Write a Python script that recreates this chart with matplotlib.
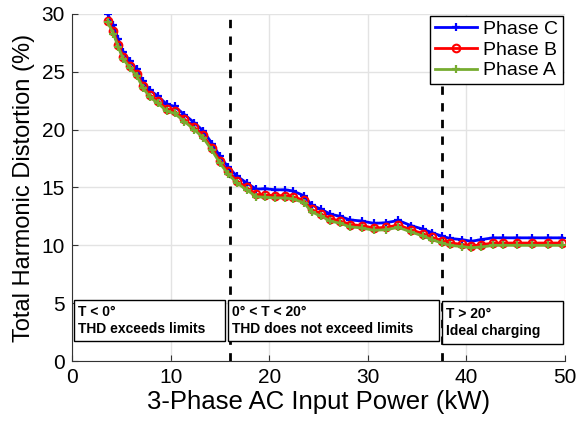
import numpy as np
import matplotlib.pyplot as plt
from matplotlib.patches import Rectangle

# -----------------------------
# DATA
# -----------------------------
POWER_KW = [3.6, 4.2, 4.7, 5.2, 5.9, 6.6, 7.2, 7.9, 8.7, 9.6,
            10.4, 11.4, 12.4, 13.3, 14.2, 15.0, 15.8, 16.7, 17.7, 18.7,
            19.6, 20.6, 21.6, 22.4, 23.5, 24.3, 25.3, 26.2, 27.2, 28.2,
            29.4, 30.6, 31.8, 33.1, 34.4, 35.6, 36.5, 37.5, 38.3, 39.5,
            40.5, 41.5, 42.7, 43.7, 45.1, 46.6, 48.3, 49.7]

THD_PHASE_C = [30.0, 29.0, 27.8, 26.7, 25.9, 25.2, 24.2, 23.4, 22.9, 22.2,
               22.0, 21.3, 20.6, 19.9, 18.8, 17.7, 16.8, 16.0, 15.4, 14.85,
               14.9, 14.8, 14.8, 14.7, 14.3, 13.5, 13.1, 12.7, 12.5, 12.2,
               12.1, 11.9, 11.95, 12.15, 11.7, 11.4, 11.1, 10.8, 10.6, 10.5,
               10.35, 10.5, 10.65, 10.65, 10.65, 10.65, 10.65, 10.65]

THD_PHASE_B = [29.4, 28.5, 27.3, 26.3, 25.5, 24.8, 23.8, 23.0, 22.5, 21.8,
               21.6, 20.9, 20.2, 19.5, 18.4, 17.3, 16.4, 15.6, 15.0, 14.4,
               14.35, 14.3, 14.3, 14.2, 13.9, 13.1, 12.7, 12.3, 12.1, 11.8,
               11.7, 11.5, 11.55, 11.75, 11.35, 11.0, 10.7, 10.4, 10.2, 10.1,
               9.95, 10.05, 10.2, 10.2, 10.2, 10.2, 10.2, 10.2]

THD_PHASE_A = [29.3, 28.3, 27.1, 26.1, 25.3, 24.6, 23.6, 22.8, 22.3, 21.6,
               21.4, 20.7, 20.0, 19.3, 18.2, 17.1, 16.2, 15.4, 14.8, 14.2,
               14.15, 14.1, 14.1, 14.0, 13.7, 12.9, 12.5, 12.1, 11.9, 11.6,
               11.5, 11.3, 11.35, 11.55, 11.15, 10.8, 10.5, 10.2, 10.0, 9.9,
               9.8, 9.85, 10.0, 10.0, 10.0, 10.0, 10.0, 10.0]

# temperature region boundaries (kW)
REGION_BOUNDS = [16.0, 37.5]

# annotation boxes
BOX_X0 = [0.2, 15.8, 37.5]
BOX_X1 = [15.5, 37.2, 49.8]
BOX_Y0 = [1.7, 1.7, 1.5]
BOX_Y1 = [5.3, 5.3, 5.2]
BOX_TEXT = ["T < 0°\nTHD exceeds limits",
            "0° < T < 20°\nTHD does not exceed limits",
            "T > 20°\nIdeal charging"]

GREEN = (0.466, 0.674, 0.188)

plt.rcParams['font.family'] = ['Liberation Sans', 'DejaVu Sans']


def main():
    fig = plt.figure(figsize=(5.76, 4.34), dpi=100)
    ax = fig.add_axes([0.125, 0.168, 0.856, 0.80])

    x = np.array(POWER_KW)
    ax.plot(x, THD_PHASE_C, color="blue", lw=2, marker="+", ms=5.5, mew=1.6,
            label="Phase C")
    ax.plot(x, THD_PHASE_B, color="red", lw=2, marker="o", ms=5.5, mew=1.5,
            mfc="none", label="Phase B")
    ax.plot(x, THD_PHASE_A, color=GREEN, lw=2, marker="+", ms=5.5, mew=1.6,
            label="Phase A")

    for xb in REGION_BOUNDS:
        ax.axvline(xb, color="black", lw=2, ls=(0, (3, 3)), zorder=1)

    for x0, x1, y0, y1, txt in zip(BOX_X0, BOX_X1, BOX_Y0, BOX_Y1, BOX_TEXT):
        ax.add_patch(Rectangle((x0, y0), x1 - x0, y1 - y0, facecolor="white",
                               edgecolor="black", lw=1, zorder=3))
        ax.text(x0 + 0.4, (y0 + y1) / 2, txt, ha="left", va="center",
                fontsize=10, fontweight="bold", linespacing=1.3, zorder=4)

    ax.set_xlim(0, 50)
    ax.set_ylim(0, 30)
    ax.set_xticks(np.arange(0, 51, 10))
    ax.set_yticks(np.arange(0, 31, 5))
    ax.tick_params(direction="in", labelsize=15, length=4, pad=5,
                   color="#333333")
    ax.grid(True, color="#e3e3e3", lw=1)
    ax.set_axisbelow(True)
    for side in ["top", "right"]:
        ax.spines[side].set_visible(False)
    for side in ["left", "bottom"]:
        ax.spines[side].set_color("#333333")

    ax.set_xlabel("3-Phase AC Input Power (kW)", fontsize=18.5, labelpad=2)
    ax.set_ylabel("Total Harmonic Distortion (%)", fontsize=17, labelpad=5)

    leg = ax.legend(loc="upper right", fontsize=14, fancybox=False,
                    edgecolor="black", framealpha=1, borderaxespad=0.1,
                    handlelength=2.2, handletextpad=0.3, labelspacing=0.15,
                    borderpad=0.25)
    leg.get_frame().set_linewidth(1)

    fig.savefig("out.png", dpi=100)
    plt.close(fig)


if __name__ == "__main__":
    main()
